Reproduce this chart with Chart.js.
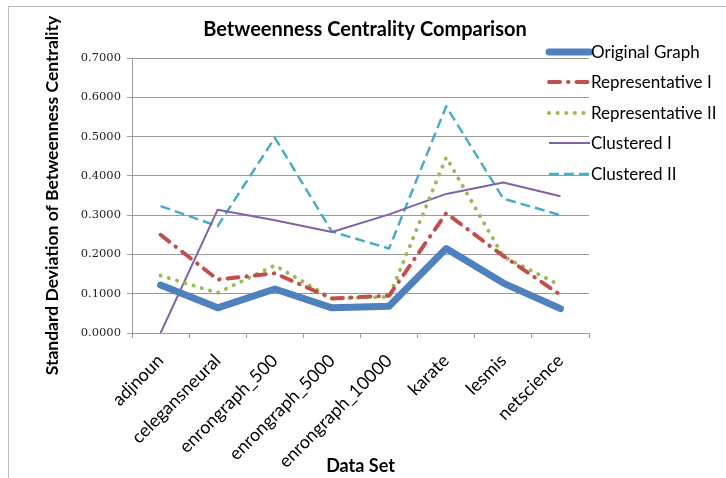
<!DOCTYPE html>
<html>
<head>
<meta charset="utf-8">
<script src="https://cdn.jsdelivr.net/npm/chart.js@4.4.1/dist/chart.umd.min.js"></script>
<style>
  html, body { margin: 0; padding: 0; background: #fff; }
  #wrap { position: relative; width: 726px; height: 478px; overflow: hidden; }
  #frame { position: absolute; left: 8px; top: 6px; width: 800px; height: 600px;
           border-left: 1px solid #bdbdbd; border-top: 1px solid #bdbdbd; }
  canvas { position: absolute; left: 0; top: 0; }
</style>
</head>
<body>
<div id="wrap">
  <div id="frame"></div>
  <canvas id="chart" width="726" height="478"></canvas>
</div>
<script>
// Data sets on the x axis
const categories = ['adjnoun', 'celegansneural', 'enrongraph_500', 'enrongraph_5000',
                    'enrongraph_10000', 'karate', 'lesmis', 'netscience'];

// Standard deviation of betweenness centrality per method
const originalGraph     = [0.122, 0.064, 0.112, 0.064, 0.068, 0.215, 0.127, 0.062];
const representativeI   = [0.250, 0.136, 0.152, 0.088, 0.095, 0.305, 0.196, 0.097];
const representativeII  = [0.146, 0.102, 0.172, 0.088, 0.092, 0.447, 0.195, 0.121];
const clusteredI        = [0.000, 0.314, 0.287, 0.257, 0.302, 0.354, 0.383, 0.348];
const clusteredII       = [0.323, 0.272, 0.497, 0.258, 0.215, 0.577, 0.342, 0.300];

const seriesNames = ['Original Graph', 'Representative I', 'Representative II', 'Clustered I', 'Clustered II'];

const SANS = 'Lato, "Open Sans", sans-serif';

// Title and right-hand legend drawn on the canvas
const decor = {
  id: 'decor',
  afterDraw(chart) {
    const ctx = chart.ctx;
    ctx.save();
    ctx.fillStyle = '#000';
    ctx.font = 'bold 20px ' + SANS;
    ctx.textAlign = 'center';
    ctx.textBaseline = 'middle';
    ctx.fillText('Betweenness Centrality Comparison', 365, 30);

    const x0 = 549, x1 = 590, textX = 591;
    const rowY = [52, 82, 113, 143, 174];
    chart.data.datasets.forEach((ds, i) => {
      const y = rowY[i];
      ctx.beginPath();
      ctx.strokeStyle = ds.borderColor;
      ctx.lineWidth = ds.borderWidth;
      ctx.lineCap = ds.borderCapStyle || 'butt';
      ctx.setLineDash(ds.borderDash || []);
      ctx.moveTo(x0, y);
      ctx.lineTo(x1, y);
      ctx.stroke();
      ctx.setLineDash([]);
      ctx.fillStyle = '#000';
      ctx.font = '17px ' + SANS;
      ctx.textAlign = 'left';
      ctx.textBaseline = 'middle';
      ctx.fillText(ds.label, textX, y + 1);
    });
    ctx.restore();
  }
};

const mk = (label, data, color, width, dash, cap) => ({
  label, data,
  borderColor: color,
  backgroundColor: color,
  borderWidth: width,
  borderDash: dash,
  borderCapStyle: cap,
  borderJoinStyle: 'round',
  pointRadius: 0,
  pointHoverRadius: 0,
  tension: 0,
  fill: false
});

new Chart(document.getElementById('chart'), {
  type: 'line',
  data: {
    labels: categories,
    datasets: [
      mk(seriesNames[0], originalGraph,    '#4f81bd', 7,   [],                'round'),
      mk(seriesNames[1], representativeI,  '#c0504d', 4,   [11, 8, 0.5, 8],   'round'),
      mk(seriesNames[2], representativeII, '#9bbb59', 4,   [0.1, 8.5],        'round'),
      mk(seriesNames[3], clusteredI,       '#8064a2', 2,   [],                'butt'),
      mk(seriesNames[4], clusteredII,      '#4bacc6', 2.5, [10, 5],           'butt')
    ]
  },
  options: {
    responsive: false,
    animation: false,
    devicePixelRatio: 1,
    layout: { padding: { top: 58, right: 137, left: 0, bottom: 0 } },
    plugins: {
      legend: { display: false },
      title: { display: false },
      tooltip: { enabled: false }
    },
    scales: {
      x: {
        offset: true,
        grid: { offset: true, drawOnChartArea: false, drawTicks: true, tickLength: 5, color: '#9a9a9a' },
        border: { color: '#9a9a9a', width: 1 },
        ticks: { minRotation: 45, maxRotation: 45, color: '#000', padding: 12,
                 font: { family: SANS, size: 18 } },
        title: { display: true, text: 'Data Set', color: '#000',
                 font: { family: SANS, size: 18, weight: 'bold' }, padding: { top: 0, bottom: 1 } },
        afterFit(scale) { scale.height = 145; }
      },
      y: {
        min: 0, max: 0.7,
        grid: { color: '#9a9a9a', tickLength: 5, drawTicks: true },
        border: { color: '#9a9a9a', width: 1 },
        ticks: { stepSize: 0.1, padding: 6, color: '#222',
                 font: { family: '"DejaVu Serif", serif', size: 11.5 },
                 callback: v => Number(v).toFixed(4) },
        title: { display: true, text: 'Standard Deviation of Betweenness Centrality', color: '#000',
                 font: { family: SANS, size: 17.5, weight: 'bold' }, padding: { top: 42, bottom: 0 } },
        afterFit(scale) { scale.width = 132; }
      }
    }
  },
  plugins: [decor]
});
</script>
</body>
</html>
